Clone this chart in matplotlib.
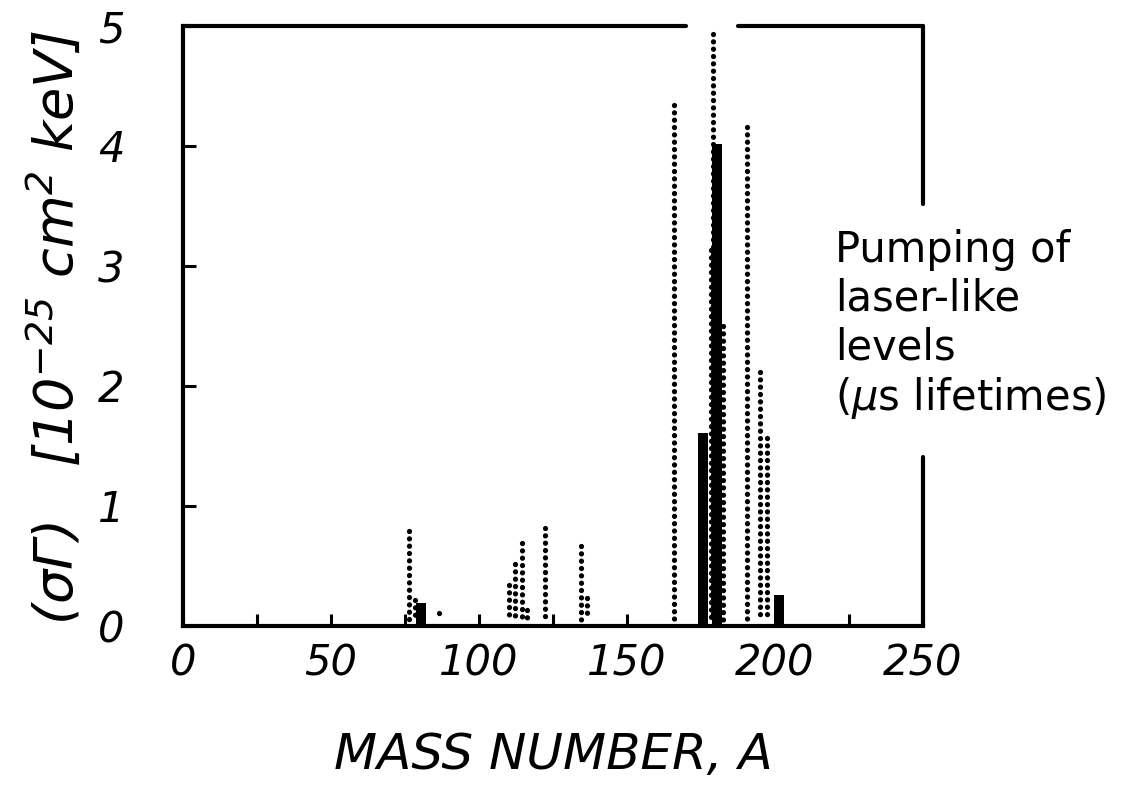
import numpy as np
import matplotlib
matplotlib.use("Agg")
import matplotlib.pyplot as plt

plt.rcParams['font.family'] = ['DejaVu Sans']
plt.rcParams['mathtext.fontset'] = 'custom'
plt.rcParams['mathtext.rm'] = 'DejaVu Sans:italic'
plt.rcParams['mathtext.it'] = 'DejaVu Sans:italic'

# dotted lines (mass number, height)
dot_A = [76.4, 78.4, 86.6, 110.3, 112.2, 114.5, 116.2, 122.3, 134.5, 136.5,
         165.9, 178.5, 179.2, 182.3, 190.5, 195.0, 197.3]
dot_h = [0.79, 0.22, 0.11, 0.34, 0.52, 0.69, 0.13, 0.82, 0.67, 0.23,
         4.34, 3.13, 4.93, 2.50, 4.16, 2.12, 1.57]

# solid bars
bar_A = [80.4, 175.7, 180.4, 201.2]
bar_h = [0.19, 1.61, 4.02, 0.26]

x_ticks = [0, 50, 100, 150, 200, 250]
y_ticks = [0, 1, 2, 3, 4, 5]

fig = plt.figure(figsize=(11.36, 8), dpi=100)
ax = fig.add_axes([183/1136, 1 - 626/800, 740/1136, 600/800])

for a, h in zip(dot_A, dot_h):
    ax.plot([a, a], [h, 0.05], color='k', lw=3.8, linestyle=(0, (0.01, 1.38)),
            dash_capstyle='round')
ax.bar(bar_A, bar_h, width=3.4, color='k')

ax.set_xlim(0, 250)
ax.set_ylim(0, 5)

# frame with gaps
for s in ['top', 'right']:
    ax.spines[s].set_visible(False)
for s in ['left', 'bottom']:
    ax.spines[s].set_linewidth(3)
fr = dict(color='k', lw=3, solid_capstyle='round', clip_on=False)
ax.plot([0, 170], [5, 5], **fr)
ax.plot([187.5, 250], [5, 5], **fr)
ax.plot([250, 250], [5, 3.52], **fr)
ax.plot([250, 250], [1.41, 0], **fr)

ax.set_xticks(x_ticks)
ax.set_xticks(np.arange(25, 250, 50), minor=True)
ax.set_yticks(y_ticks)
ax.tick_params(which='both', direction='in', length=9, width=2.2)
ax.tick_params(axis='x', pad=12, labelsize=30)
ax.tick_params(axis='y', pad=42, labelsize=30)
for lab in ax.get_xticklabels() + ax.get_yticklabels():
    lab.set_fontstyle('italic')

ax.set_xlabel('MASS NUMBER, A', fontsize=36, fontstyle='italic', va='center')
ax.xaxis.set_label_coords(0.5, -0.215)
ax.set_ylabel(r'$(\sigma\Gamma)$   [10$^{-25}$ cm$^{2}$ keV]', fontsize=39,
              fontstyle='italic', va='center')
ax.yaxis.set_label_coords(-0.173, 0.497)

ax.text(220.3, 1.8, 'Pumping of\nlaser-like\nlevels\n($\\mu$s lifetimes)',
        fontsize=30, ha='left', va='baseline', linespacing=1.2)

fig.savefig('out.png', dpi=100)
